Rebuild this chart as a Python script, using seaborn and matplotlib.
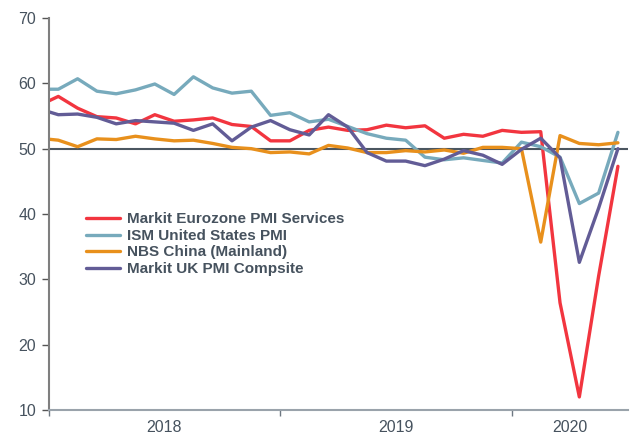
import pandas as pd
import numpy as np
import matplotlib.pyplot as plt
import seaborn as sns

# ── Data (monthly, Dec 2017 .. Jun 2020) ─────────────────────────────────────
months = pd.date_range("2017-12-01", "2020-06-01", freq="MS")

eurozone = [56.6,
            58.0, 56.2, 54.9, 54.7, 53.8, 55.2, 54.2, 54.4, 54.7, 53.7, 53.4, 51.2,
            51.2, 52.8, 53.3, 52.8, 52.9, 53.6, 53.2, 53.5, 51.6, 52.2, 51.9, 52.8,
            52.5, 52.6, 26.4, 12.0, 30.5, 47.3]
ism_us = [59.1,
          59.1, 60.7, 58.8, 58.4, 59.0, 59.9, 58.3, 61.0, 59.3, 58.5, 58.8, 55.1,
          55.5, 54.1, 54.5, 53.4, 52.3, 51.6, 51.3, 48.7, 48.3, 48.6, 48.2, 47.8,
          51.0, 50.3, 48.7, 41.6, 43.2, 52.5]
nbs_china = [51.6,
             51.3, 50.3, 51.5, 51.4, 51.9, 51.5, 51.2, 51.3, 50.8, 50.2, 50.0, 49.4,
             49.5, 49.2, 50.5, 50.1, 49.4, 49.4, 49.7, 49.5, 49.8, 49.3, 50.2, 50.2,
             50.0, 35.7, 52.0, 50.8, 50.6, 50.9]
uk_pmi = [56.1,
          55.2, 55.3, 54.8, 53.8, 54.3, 54.1, 53.9, 52.8, 53.8, 51.2, 53.3, 54.3,
          52.9, 52.1, 55.2, 53.3, 49.4, 48.1, 48.1, 47.4, 48.4, 49.7, 49.0, 47.6,
          49.9, 51.6, 48.6, 32.6, 40.9, 50.0]

series_names = ["Markit Eurozone PMI Services", "ISM United States PMI",
                "NBS China (Mainland)", "Markit UK PMI Compsite"]
colors = ["#F2353F", "#77AABC", "#E8901C", "#625C96"]

years = ["2018", "2019", "2020"]
year_label_pos = [6, 18, 27]
year_bounds = [0, 12, 24]
yticks = [10, 20, 30, 40, 50, 60, 70]

# ── Long-form table ──────────────────────────────────────────────────────────
# x position: months since Jan 2018, points plotted mid-month
pos = (months.year - 2018) * 12 + (months.month - 1) + 0.5
frames = []
for name, vals in zip(series_names, [eurozone, ism_us, nbs_china, uk_pmi]):
    frames.append(pd.DataFrame({"pos": pos, "value": vals, "series": name}))
df = pd.concat(frames, ignore_index=True)

# ── Plot ─────────────────────────────────────────────────────────────────────
sns.set_style("white")
plt.rcParams["font.family"] = ["Liberation Sans", "DejaVu Sans"]
text_col = "#46525E"

fig = plt.figure(figsize=(6.32, 4.34), dpi=100)
ax = fig.add_axes([0.077, 0.0553, 0.916, 0.9032])

sns.lineplot(data=df, x="pos", y="value", hue="series", hue_order=series_names,
             palette=colors, linewidth=2.4, ax=ax, legend=True)

ax.axhline(50, color="#4B5660", linewidth=1.5, zorder=1)

ax.set_xlim(0, 30)
ax.set_ylim(10, 70)
ax.set_yticks(yticks)
ax.tick_params(axis="y", length=5, width=1, color="#555555", labelsize=11.5,
               labelcolor=text_col, pad=4, left=True)

ax.set_xticks(year_bounds)
ax.set_xticklabels([])
ax.tick_params(axis="x", length=4, width=1, color="#6E7882", bottom=True)
ax.set_xticks(year_label_pos, minor=True)
ax.set_xticklabels(years, minor=True)
ax.tick_params(axis="x", which="minor", length=0, labelsize=11.5,
               labelcolor=text_col, pad=7)

ax.set_xlabel("")
ax.set_ylabel("")

for s in ["top", "right"]:
    ax.spines[s].set_visible(False)
ax.spines["left"].set_color("#7F7F7F")
ax.spines["left"].set_linewidth(1.5)
ax.spines["bottom"].set_color("#9AA3AB")
ax.spines["bottom"].set_linewidth(1.5)

leg = ax.legend(loc="upper left", bbox_to_anchor=(0.054, 0.52), frameon=False,
                handlelength=2.2, handletextpad=0.45, labelspacing=0.17,
                borderaxespad=0, prop={"weight": "bold", "size": 11.0})
for t in leg.get_texts():
    t.set_color(text_col)
for h in leg.get_lines():
    h.set_linewidth(2.4)

plt.savefig("out.png", dpi=100)
